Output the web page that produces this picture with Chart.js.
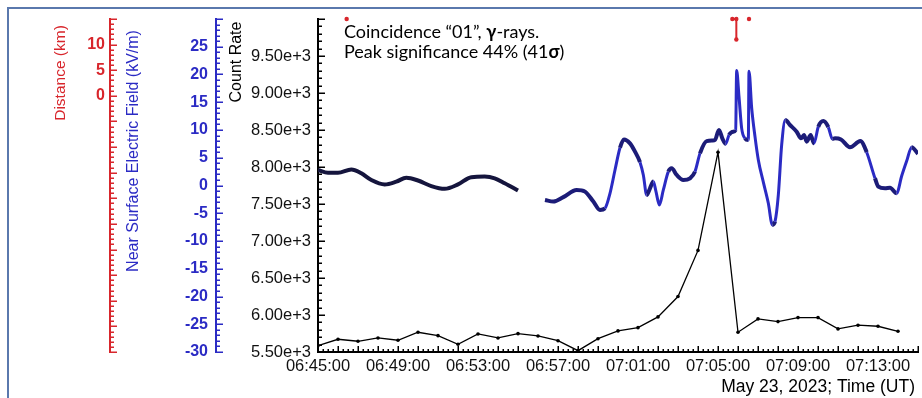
<!DOCTYPE html>
<html>
<head>
<meta charset="utf-8">
<script src="https://cdn.jsdelivr.net/npm/chart.js@4/dist/chart.umd.min.js"></script>
<style>
  html, body { margin: 0; padding: 0; background: #ffffff; }
  #wrap { width: 922px; height: 398px; position: relative; }
</style>
</head>
<body>
<div id="wrap"><canvas id="c" width="922" height="398"></canvas></div>
<script>
// ---- data -------------------------------------------------------------
// gamma-ray coincidence "01" count rate, one value per minute
const countTimes = [
  '06:45:00','06:46:00','06:47:00','06:48:00','06:49:00','06:50:00','06:51:00','06:52:00',
  '06:53:00','06:54:00','06:55:00','06:56:00','06:57:00','06:58:00','06:59:00','07:00:00',
  '07:01:00','07:02:00','07:03:00','07:04:00','07:05:00','07:06:00','07:07:00','07:08:00',
  '07:09:00','07:10:00','07:11:00','07:12:00','07:13:00','07:14:00'
];
const countRates = [
  5585, 5672, 5645, 5690, 5659, 5767, 5721, 5604,
  5744, 5690, 5748, 5717, 5653, 5518, 5680, 5785,
  5829, 5974, 6249, 6873, 8200, 5767, 5947, 5911,
  5965, 5965, 5812, 5862, 5848, 5780
];

// near surface electric field (kV/m), before the data gap
const fieldTimesEarly = [
  '06:45:00','06:45:30','06:46:00','06:46:40','06:47:10','06:47:40','06:48:20','06:48:55',
  '06:49:25','06:50:00','06:50:40','06:51:20','06:52:00','06:52:40','06:53:20','06:53:50',
  '06:54:20','06:55:00'
];
const fieldValuesEarly = [
  2.8, 2.3, 2.3, 2.9, 2.2, 1.0, 0.2, 0.7,
  1.4, 0.9, -0.1, -0.6, 0.2, 1.5, 1.6, 1.3,
  0.4, -0.9
];

// near surface electric field (kV/m), after the data gap
const fieldTimesLate = [
  '06:56:21','06:56:46','06:57:16','06:57:56','06:58:21','06:58:46','06:59:06','06:59:21',
  '06:59:36','06:59:51','07:00:06','07:00:18','07:00:36','07:00:51','07:01:06','07:01:16',
  '07:01:26','07:01:36','07:01:46','07:01:54','07:02:04','07:02:16','07:02:31','07:02:41',
  '07:02:56','07:03:16','07:03:36','07:03:51','07:04:06','07:04:26','07:04:44','07:04:51',
  '07:05:03','07:05:13','07:05:23','07:05:33','07:05:46','07:05:53','07:05:56','07:06:03',
  '07:06:11','07:06:21','07:06:31','07:06:33','07:06:41','07:06:51','07:07:01','07:07:16',
  '07:07:31','07:07:43','07:07:51','07:08:01','07:08:11','07:08:22','07:08:36','07:08:56',
  '07:09:09','07:09:18','07:09:26','07:09:38','07:09:48','07:10:01','07:10:16','07:10:31',
  '07:10:43','07:10:51','07:11:09','07:11:36','07:12:07','07:12:26','07:12:51','07:13:01',
  '07:13:21','07:13:36','07:13:56','07:14:11','07:14:26','07:14:41','07:15:00'
];
const fieldValuesLate = [
  -2.6, -2.9, -2.1, -0.8, -1.1, -2.9, -4.4, -4.1,
  -1.4, 2.8, 6.8, 8.3, 7.6, 6.1, 4.2, 1.9,
  -1.7, -0.5, 0.7, -1.1, -3.5, -0.8, 2.5, 3.1,
  1.9, 1.0, 1.3, 2.5, 5.8, 8.0, 8.1, 8.2,
  10.0, 8.5, 7.5, 9.1, 9.7, 10.0, 20.7, 16.0,
  10.3, 8.5, 8.2, 20.6, 14.0, 8.8, 4.6, 0.6,
  -3.2, -7.1, -6.5, -1.7, 7.3, 11.8, 10.9, 9.7,
  8.5, 9.1, 7.9, 9.1, 7.6, 10.6, 11.6, 10.5,
  8.4, 8.5, 8.3, 6.9, 8.0, 6.0, 1.3, -0.2,
  -0.5, -0.4, -1.4, 1.7, 4.4, 6.9, 5.7
];

// lightning flash distance (km)
const lightningTimes = ['06:46:26', '07:05:43', '07:05:55', '07:05:55', '07:06:33'];
const lightningDistances = [15.0, 15.0, 15.0, 11.0, 15.0];

// axis tick labels
const timeTickLabels = ['06:45:00','06:49:00','06:53:00','06:57:00','07:01:00','07:05:00','07:09:00','07:13:00'];
const countTickLabels = ['5.50e+3','6.00e+3','6.50e+3','7.00e+3','7.50e+3','8.00e+3','8.50e+3','9.00e+3','9.50e+3'];
const fieldTickLabels = ['-30','-25','-20','-15','-10','-5','0','5','10','15','20','25'];
const distanceTickLabels = ['0','5','10'];

// ---- helpers -------------------------------------------------------------
const T0 = 6 * 3600 + 45 * 60;
function toSec(s) {
  const [h, m, sec] = s.split(':').map(Number);
  return h * 3600 + m * 60 + sec - T0;
}
function pairs(times, values) {
  return times.map((t, i) => ({ x: toSec(t), y: values[i] }));
}

const RED = '#d8262c';
const BLUE = '#2b2bc4';
const NAVY = '#1c1c78';
const TICK_FONT = 'Liberation Sans, Arial, sans-serif';

function steep(ctx) {
  const dx = Math.abs(ctx.p1.x - ctx.p0.x);
  const dy = Math.abs(ctx.p1.y - ctx.p0.y);
  return dy / Math.max(dx, 0.5) > 2.5;
}

// inward tick marks along a left axis
function inwardY(ctx, scale, step, majorStep, color) {
  const x = scale.right;
  ctx.save();
  ctx.strokeStyle = color;
  ctx.lineWidth = 1.5;
  ctx.beginPath();
  const n = Math.round((scale.max - scale.min) / step);
  for (let i = 0; i <= n; i++) {
    const v = scale.min + i * step;
    const y = Math.round(scale.getPixelForValue(v)) + 0.25;
    const r = v / majorStep;
    const major = Math.abs(r - Math.round(r)) < 1e-6;
    ctx.moveTo(x, y);
    ctx.lineTo(x + (major ? 7 : 4), y);
  }
  ctx.stroke();
  ctx.restore();
}

// inward tick marks along the time axis
function inwardX(ctx, scale, step, majorStep, color) {
  const y = scale.top;
  ctx.save();
  ctx.strokeStyle = color;
  ctx.lineWidth = 1.5;
  ctx.beginPath();
  const n = Math.round((scale.max - scale.min) / step);
  for (let i = 0; i <= n; i++) {
    const v = scale.min + i * step;
    const x = Math.round(scale.getPixelForValue(v)) + 0.25;
    const major = (v % majorStep) === 0;
    ctx.moveTo(x, y);
    ctx.lineTo(x, y - (major ? 6 : 3));
  }
  ctx.stroke();
  ctx.restore();
}

function rotatedText(ctx, text, cx, cy, font, color) {
  ctx.save();
  ctx.translate(cx, cy);
  ctx.rotate(-Math.PI / 2);
  ctx.font = font;
  ctx.fillStyle = color;
  ctx.textAlign = 'center';
  ctx.textBaseline = 'middle';
  ctx.fillText(text, 0, 0);
  ctx.restore();
}

function richLine(ctx, parts, x, y, size) {
  let cx = x;
  for (const [txt, bold] of parts) {
    ctx.font = (bold ? 'bold ' : '') + size + 'px Lato, "Open Sans", sans-serif';
    ctx.fillText(txt, cx, y);
    cx += ctx.measureText(txt).width;
  }
}

const decor = {
  id: 'decor',
  beforeDraw(chart) {
    const ctx = chart.ctx;
    ctx.save();
    ctx.fillStyle = '#ffffff';
    ctx.fillRect(0, 0, chart.width, chart.height);
    // outer frame
    ctx.strokeStyle = '#5a78ad';
    ctx.lineWidth = 2;
    ctx.beginPath();
    ctx.moveTo(8, chart.height + 2);
    ctx.lineTo(8, 8);
    ctx.lineTo(chart.width + 2, 8);
    ctx.stroke();
    ctx.restore();
  },
  afterDraw(chart) {
    const ctx = chart.ctx;
    const s = chart.scales;
    inwardY(ctx, s.yDist, 1, 5, RED);
    inwardY(ctx, s.yField, 1, 5, BLUE);
    inwardY(ctx, s.yCount, 100, 500, '#000');
    inwardX(ctx, s.x, 15, 60, '#000');

    rotatedText(ctx, 'Distance (km)', 61, 73, '15.5px ' + TICK_FONT, RED);
    rotatedText(ctx, 'Near Surface Electric Field (kV/m)', 134, 151, '16px ' + TICK_FONT, BLUE);
    rotatedText(ctx, 'Count Rate', 237, 62, '16px ' + TICK_FONT, '#000');

    ctx.save();
    ctx.fillStyle = '#000';
    ctx.textBaseline = 'alphabetic';
    ctx.textAlign = 'left';
    richLine(ctx, [['Coincidence \u201C01\u201D, ', false], ['\u03B3', true], ['-rays.', false]], 344, 38, 18);
    richLine(ctx, [['Peak significance 44% (41', false], ['\u03C3', true], [')', false]], 344, 58, 18);

    ctx.font = '17.5px ' + TICK_FONT;
    ctx.textAlign = 'right';
    ctx.textBaseline = 'middle';
    ctx.fillText('May 23, 2023; Time (UT)', 915, 387);
    ctx.restore();
  }
};

new Chart(document.getElementById('c'), {
  type: 'line',
  data: {
    datasets: [
      {
        label: 'Distance',
        data: pairs(lightningTimes, lightningDistances),
        yAxisID: 'yDist',
        borderColor: RED,
        backgroundColor: RED,
        borderWidth: 2,
        pointRadius: 2.2,
        pointBorderWidth: 0,
        clip: false,
        order: 0,
        segment: {
          borderColor: c => (c.p1.parsed.x - c.p0.parsed.x > 20 ? 'rgba(0,0,0,0)' : RED)
        }
      },
      {
        label: 'Count Rate',
        data: pairs(countTimes, countRates),
        yAxisID: 'yCount',
        borderColor: '#000',
        backgroundColor: '#000',
        borderWidth: 1.3,
        pointRadius: 1.8,
        pointBorderWidth: 0,
        order: 1
      },
      {
        label: 'Electric Field',
        data: pairs(fieldTimesEarly, fieldValuesEarly),
        yAxisID: 'yField',
        borderColor: '#15153d',
        borderWidth: 4,
        pointRadius: 0,
        cubicInterpolationMode: 'monotone',
        order: 2
      },
      {
        label: 'Electric Field',
        data: pairs(fieldTimesLate, fieldValuesLate),
        yAxisID: 'yField',
        borderColor: NAVY,
        borderWidth: 4,
        pointRadius: 0,
        cubicInterpolationMode: 'monotone',
        order: 2,
        segment: {
          borderColor: c => (steep(c) ? BLUE : NAVY),
          borderWidth: c => (steep(c) ? 3 : 4)
        }
      }
    ]
  },
  options: {
    responsive: false,
    animation: false,
    events: [],
    layout: { padding: { left: 0, right: 3, top: 19, bottom: 0 } },
    plugins: { legend: { display: false }, tooltip: { enabled: false } },
    scales: {
      x: {
        type: 'linear',
        position: 'bottom',
        min: 0,
        max: 1800,
        grid: { display: false, drawTicks: false },
        border: { display: true, color: '#000', width: 2 },
        afterBuildTicks: sc => { sc.ticks = timeTickLabels.map(t => ({ value: toSec(t) })); },
        afterFit: sc => { sc.height = 46; },
        ticks: {
          autoSkip: false,
          maxRotation: 0,
          padding: 5,
          color: '#111',
          font: { family: TICK_FONT, size: 16.5 },
          callback: (v, i) => timeTickLabels[i]
        }
      },
      yDist: {
        type: 'linear',
        position: 'left',
        weight: 3,
        min: -50,
        max: 15,
        grid: { display: false, drawTicks: false },
        border: { display: true, color: RED, width: 2 },
        afterBuildTicks: sc => { sc.ticks = distanceTickLabels.map(t => ({ value: parseFloat(t) })); },
        afterFit: sc => { sc.width = 110; },
        ticks: {
          padding: 5,
          color: RED,
          font: { family: TICK_FONT, size: 16, weight: 'bold' },
          callback: (v, i) => distanceTickLabels[i]
        }
      },
      yField: {
        type: 'linear',
        position: 'left',
        weight: 2,
        min: -30,
        max: 30,
        grid: { display: false, drawTicks: false },
        border: { display: true, color: BLUE, width: 2 },
        afterBuildTicks: sc => { sc.ticks = fieldTickLabels.map(t => ({ value: parseFloat(t) })); },
        afterFit: sc => { sc.width = 106; },
        ticks: {
          padding: 8,
          color: BLUE,
          font: { family: TICK_FONT, size: 16, weight: 'bold' },
          callback: (v, i) => fieldTickLabels[i]
        }
      },
      yCount: {
        type: 'linear',
        position: 'left',
        weight: 1,
        min: 5500,
        max: 10000,
        grid: { display: false, drawTicks: false },
        border: { display: true, color: '#000', width: 2 },
        afterBuildTicks: sc => { sc.ticks = countTickLabels.map(t => ({ value: parseFloat(t) })); },
        afterFit: sc => { sc.width = 102; },
        ticks: {
          padding: 7,
          color: '#111',
          font: { family: TICK_FONT, size: 16.5 },
          callback: (v, i) => countTickLabels[i]
        }
      }
    }
  },
  plugins: [decor]
});
</script>
</body>
</html>
